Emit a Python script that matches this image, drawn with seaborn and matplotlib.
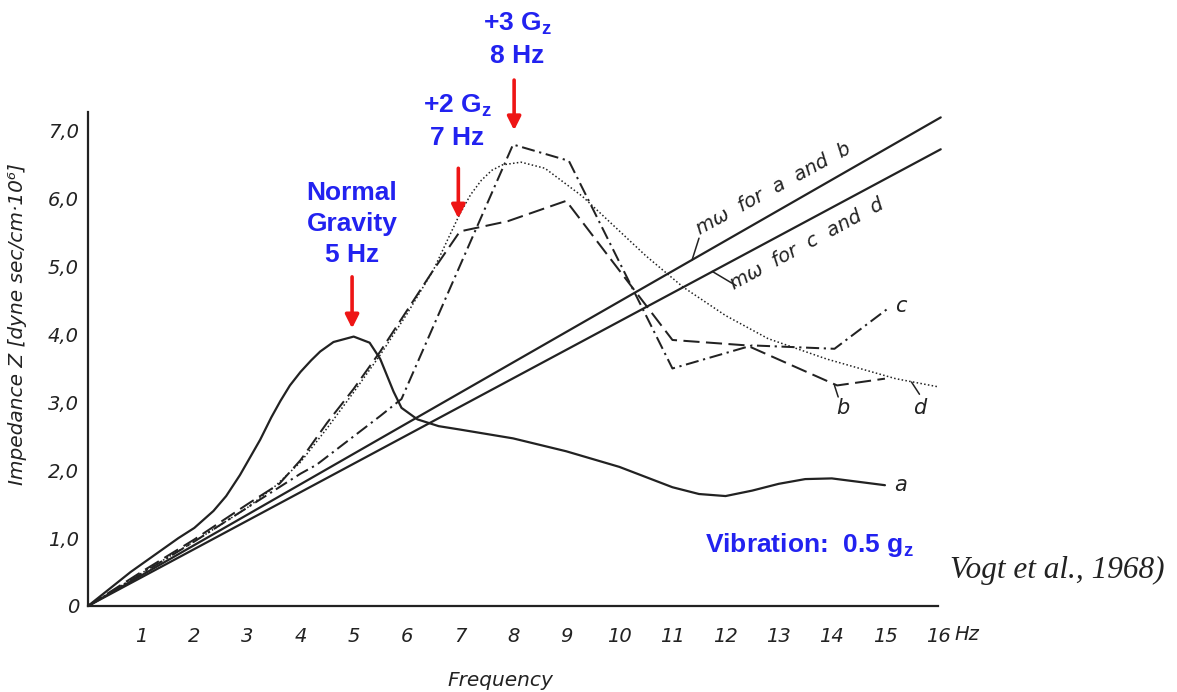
import matplotlib
matplotlib.use('Agg')
import matplotlib.pyplot as plt
import seaborn as sns
import pandas as pd

# ---- data ----
freq_a = [0, 0.8, 1.7, 2.0, 2.36, 2.6, 2.86, 3.24, 3.45, 3.62, 3.8, 4.0, 4.2, 4.37, 4.62, 5.0, 5.3, 5.5, 5.75, 5.9, 6.2, 6.6, 7.0, 8.0, 9.0, 10.0, 10.5, 11.0, 11.5, 12.0, 12.5, 13.0, 13.5, 14.0, 14.5, 15.0]
imp_a = [0, 0.5, 1.0, 1.15, 1.4, 1.62, 1.93, 2.45, 2.78, 3.02, 3.25, 3.45, 3.62, 3.75, 3.89, 3.97, 3.88, 3.64, 3.16, 2.92, 2.75, 2.65, 2.6, 2.47, 2.28, 2.05, 1.9, 1.75, 1.65, 1.62, 1.7, 1.8, 1.87, 1.88, 1.83, 1.78]

freq_b = [0, 1, 2, 3, 3.6, 4, 4.5, 5, 5.5, 6, 6.5, 7.0, 7.9, 9.0, 11.0, 12.4, 14.1, 15.0]
imp_b = [0, 0.5, 0.98, 1.5, 1.8, 2.15, 2.7, 3.2, 3.75, 4.35, 4.95, 5.52, 5.67, 5.97, 3.92, 3.84, 3.25, 3.35]

freq_c = [0, 1, 2, 3, 4, 4.3, 5, 5.5, 5.9, 8.0, 9.05, 11.0, 12.5, 14.05, 15.05]
imp_c = [0, 0.47, 0.95, 1.45, 1.95, 2.08, 2.5, 2.8, 3.05, 6.8, 6.56, 3.5, 3.84, 3.79, 4.38]

freq_d = [0, 1, 2, 3, 3.5, 4, 4.5, 5, 5.5, 6, 6.5, 6.8, 7.0, 7.2, 7.4, 7.6, 7.8, 8.15, 8.6, 9.3, 9.9, 10.5, 11.2, 12.0, 12.8, 13.9, 15.2, 16.0]
imp_d = [0, 0.48, 0.95, 1.45, 1.75, 2.12, 2.62, 3.15, 3.7, 4.3, 4.95, 5.45, 5.78, 6.06, 6.27, 6.42, 6.5, 6.54, 6.45, 6.04, 5.6, 5.16, 4.7, 4.28, 3.94, 3.64, 3.35, 3.23]

freq_mw = [0, 16.05]
imp_mw_ab = [0, 7.2]
imp_mw_cd = [0, 6.73]

x_ticks = list(range(1, 17))
y_ticks = [0, 1, 2, 3, 4, 5, 6, 7]
y_tick_labels = ['0', '1,0', '2,0', '3,0', '4,0', '5,0', '6,0', '7,0']

# ---- style ----
sns.set_theme(style='white')
plt.rcParams['font.family'] = ['DejaVu Sans']
plt.rcParams['mathtext.fontset'] = 'custom'
plt.rcParams['mathtext.bf'] = 'Liberation Sans:bold'
plt.rcParams['mathtext.rm'] = 'Liberation Sans'
plt.rcParams['mathtext.it'] = 'Liberation Sans:italic'

ink = '#222222'
blue = '#2222f0'
red = '#ee1515'

fig = plt.figure(figsize=(11.77, 6.92), dpi=100)
ax = fig.add_axes([0.0748, 0.1243, 0.7222, 0.7139])

lw = 1.45
sns.lineplot(x=freq_a, y=imp_a, ax=ax, color=ink, lw=1.6, estimator=None, sort=False)
ln_b = sns.lineplot(x=freq_b, y=imp_b, ax=ax, color=ink, lw=lw, estimator=None, sort=False).lines[-1]
ln_b.set_dashes([8, 3.2])
ln_c = sns.lineplot(x=freq_c, y=imp_c, ax=ax, color=ink, lw=lw, estimator=None, sort=False).lines[-1]
ln_c.set_dashes([6.5, 2.3, 1.1, 2.3])
ln_d = sns.lineplot(x=freq_d, y=imp_d, ax=ax, color=ink, lw=1.1, estimator=None, sort=False).lines[-1]
ln_d.set_dashes([1.0, 1.5])
sns.lineplot(x=freq_mw, y=imp_mw_ab, ax=ax, color=ink, lw=1.6, estimator=None, sort=False, clip_on=False)
sns.lineplot(x=freq_mw, y=imp_mw_cd, ax=ax, color=ink, lw=1.6, estimator=None, sort=False, clip_on=False)

ax.set_xlim(0, 16)
ax.set_ylim(0, 7.28)
for s in ['top', 'right']:
    ax.spines[s].set_visible(False)
for s in ['left', 'bottom']:
    ax.spines[s].set_color(ink)
    ax.spines[s].set_linewidth(1.6)

ax.set_xticks(x_ticks)
ax.set_xticklabels([str(t) for t in x_ticks], style='italic', color=ink)
ax.set_yticks(y_ticks)
ax.set_yticklabels(y_tick_labels, style='italic', color=ink)
ax.tick_params(axis='x', direction='out', length=7, width=1.3, pad=8, labelsize=14, colors=ink)
ax.tick_params(axis='y', direction='out', length=5, width=1.3, pad=1.5, labelsize=14, colors=ink)
ax.text(16.3, -0.058, 'Hz', transform=ax.get_xaxis_transform(), style='italic', fontsize=14,
        color=ink, ha='left', va='center')

ax.set_xlabel('Frequency', style='italic', fontsize=14.5, color=ink)
ax.xaxis.set_label_coords(0.485, -0.131)
ax.set_ylabel('Impedance Z [dyne sec/cm·10⁶]', style='italic', fontsize=14.5, color=ink)
ax.yaxis.set_label_coords(-0.072, 0.57)

# curve labels
for lbl, x, y in [('a', 15.3, 1.78), ('b', 14.2, 2.92), ('c', 15.3, 4.42), ('d', 15.65, 2.92)]:
    ax.text(x, y, lbl, style='italic', fontsize=15, color=ink, ha='center', va='center')
ax.plot([14.05, 14.12], [3.25, 3.08], color=ink, lw=1.1)
ax.plot([15.5, 15.65], [3.3, 3.12], color=ink, lw=1.1)

# m-omega labels
ax.text(11.55, 5.42, 'mω  for  a  and  b', rotation=28.5, rotation_mode='anchor', ha='left', va='bottom',
        style='italic', fontsize=14, color=ink)
ax.plot([11.37, 11.5], [5.1, 5.42], color=ink, lw=1.1)
ax.text(12.2, 4.6, 'mω  for  c  and  d', rotation=28.5, rotation_mode='anchor', ha='left', va='bottom',
        style='italic', fontsize=14, color=ink)
ax.plot([11.75, 12.2], [4.93, 4.72], color=ink, lw=1.1)

# blue annotations and red arrows
bf = dict(fontsize=19, fontweight='bold', color=blue, family='Liberation Sans', ha='center',
          va='center', linespacing=1.38, clip_on=False)
ax.text(4.97, 5.63, 'Normal\nGravity\n5 Hz', **bf)
ax.text(6.95, 7.14, '+2 G$_{\\mathbf{z}}$\n7 Hz', **bf)
ax.text(8.08, 8.35, '+3 G$_{\\mathbf{z}}$\n8 Hz', **bf)
ax.text(11.62, 0.9, 'Vibration:  0.5 g$_{\\mathbf{z}}$', **{**bf, 'ha': 'left'})
ap = dict(arrowstyle='-|>', color=red, lw=2.6, mutation_scale=20, shrinkA=0, shrinkB=0)
for x, y0, y1 in [(4.97, 4.85, 4.09), (6.97, 6.45, 5.71), (8.02, 7.75, 7.01)]:
    ax.annotate('', xy=(x, y1), xytext=(x, y0), arrowprops=ap, annotation_clip=False)

fig.text(0.807, 0.176, 'Vogt et al., 1968)', family='Liberation Serif', style='italic',
         fontsize=22.5, color='#222222', ha='left', va='center')

fig.savefig('out.png', dpi=100, facecolor='white')
